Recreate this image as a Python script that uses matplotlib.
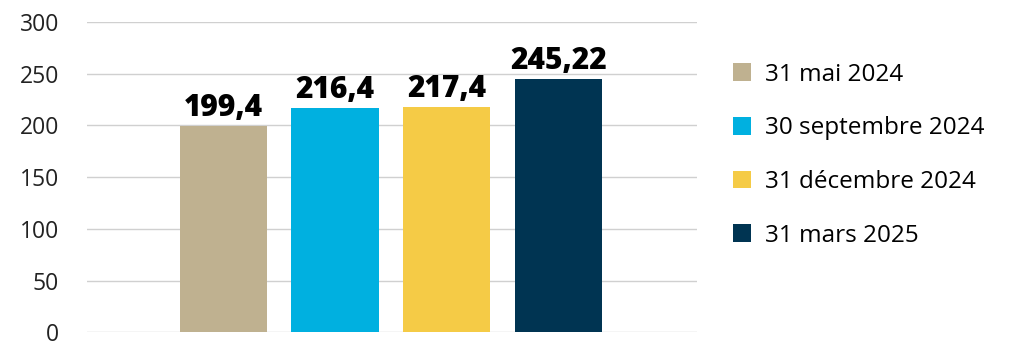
import matplotlib.pyplot as plt

plt.rcParams['font.family'] = ['Open Sans', 'DejaVu Sans']

dates = ["31 mai 2024", "30 septembre 2024", "31 décembre 2024", "31 mars 2025"]
values = [199.4, 216.4, 217.4, 245.22]
value_labels = ["199,4", "216,4", "217,4", "245,22"]
colors = ["#BFB190", "#00B0E0", "#F5CB46", "#003452"]

fig = plt.figure(figsize=(10.19, 3.43), dpi=100)
ax = fig.add_axes([0.0854, 0.031, 0.5986, 0.905])

x = range(len(values))
bars = ax.bar(x, values, width=0.78, color=colors, zorder=2)

for xi, v, lab in zip(x, values, value_labels):
    ax.text(xi, v + 3, lab, ha='center', va='bottom', fontsize=21.5,
            fontweight='heavy', color='black')

ax.set_xlim(-1.22, 4.24)
ax.set_ylim(0, 300)
ax.set_yticks(range(0, 301, 50))
ax.set_xticks([])
ax.grid(axis='y', color='#D0D0D0', linewidth=1, zorder=0)
for s in ax.spines.values():
    s.set_visible(False)
ax.tick_params(axis='y', length=0, pad=20, labelsize=16.5, labelcolor='#222222')

fig.legend(bars, dates, loc='upper left', bbox_to_anchor=(0.7075, 0.853),
           frameon=False, fontsize=17.5, handlelength=0.75, handleheight=0.75,
           handletextpad=0.55, labelspacing=1.22, borderpad=0)

fig.savefig("out.png", dpi=100)
